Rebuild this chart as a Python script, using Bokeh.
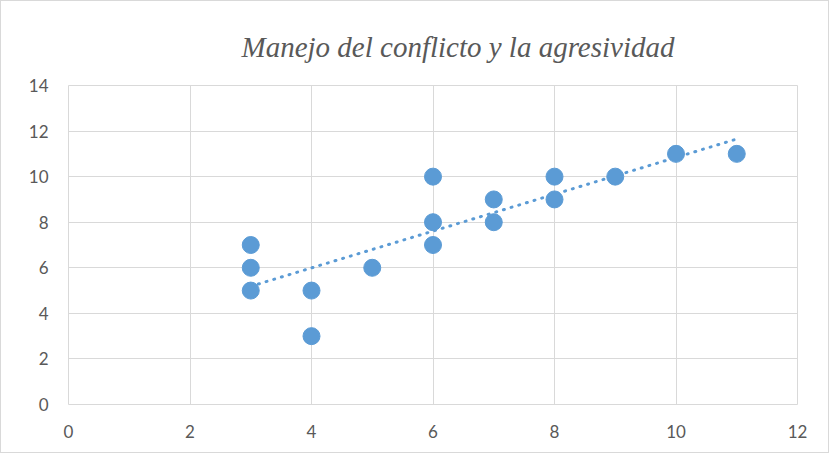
import numpy as np
from bokeh.plotting import figure
from bokeh.models import ColumnDataSource, FixedTicker
from bokeh.embed import file_html
from bokeh.resources import INLINE

# data
conflicto = [3, 3, 3, 4, 4, 5, 6, 6, 6, 7, 7, 8, 8, 9, 10, 11]
agresividad = [7, 6, 5, 5, 3, 6, 10, 8, 7, 9, 8, 10, 9, 10, 11, 11]
x_ticks = [0, 2, 4, 6, 8, 10, 12]
y_ticks = [0, 2, 4, 6, 8, 10, 12, 14]
title_text = "Manejo del conflicto y la agresividad"

BLUE = "#5b9bd5"
GRID = "#d9d9d9"
TXT = "#595959"

p = figure(width=829, height=453, output_backend="svg", toolbar_location=None,
           x_range=(0, 12), y_range=(0, 14), title=title_text)
p.min_border_left = 67
p.min_border_right = 33
p.min_border_top = 84
p.min_border_bottom = 50
p.outline_line_color = GRID
p.styles = {"border": "1px solid #d9d9d9"}

p.title.text_font = "Liberation Serif"
p.title.text_font_style = "italic"
p.title.text_font_size = "29px"
p.title.text_color = TXT
p.title.align = "left"
p.title.offset = 173
p.title.standoff = 46

for ax in (p.xaxis[0], p.yaxis[0]):
    ax.axis_line_color = None
    ax.major_tick_line_color = None
    ax.minor_tick_line_color = None
    ax.major_label_text_font = "Lato"
    ax.major_label_text_font_size = "17px"
    ax.major_label_text_color = TXT
p.xaxis[0].ticker = FixedTicker(ticks=x_ticks)
p.yaxis[0].ticker = FixedTicker(ticks=y_ticks)
p.xaxis[0].major_label_standoff = 14
p.yaxis[0].major_label_standoff = 14

p.xgrid.ticker = FixedTicker(ticks=x_ticks)
p.ygrid.ticker = FixedTicker(ticks=y_ticks)
p.xgrid.grid_line_color = GRID
p.ygrid.grid_line_color = GRID

# linear trendline from data
xs = np.array(conflicto, dtype=float)
ys = np.array(agresividad, dtype=float)
m, b = np.polyfit(xs, ys, 1)
tx = np.array([xs.min(), xs.max()])
p.line(tx, m * tx + b, line_color=BLUE, line_width=3, line_dash="1 7", line_cap="round")

src = ColumnDataSource(dict(x=conflicto, y=agresividad))
p.scatter("x", "y", source=src, size=17, fill_color=BLUE, line_color=BLUE)

open("out.html", "w").write(file_html(p, INLINE))
